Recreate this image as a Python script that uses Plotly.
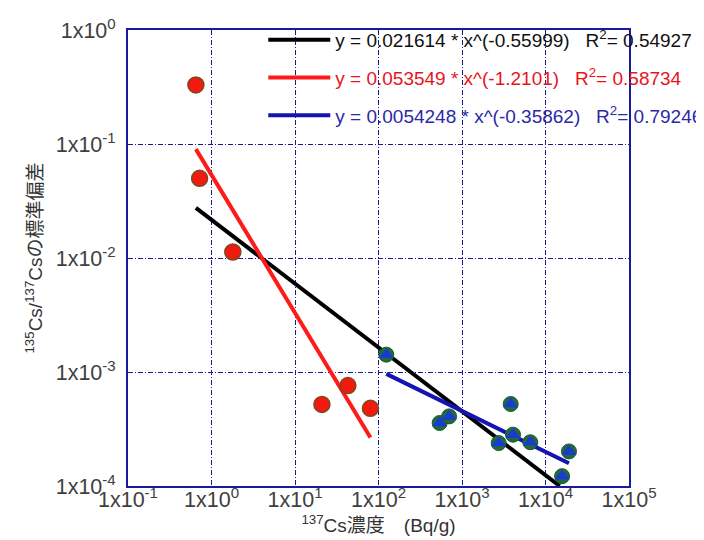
import plotly.graph_objects as go
import numpy as np

# Red series (circles)
red_x = [0.65, 0.72, 1.8, 21, 43, 80]
red_y = [0.33, 0.050, 0.0113, 5.2e-4, 7.6e-4, 4.8e-4]

# Blue series (triangles on green circles)
blue_x = [124, 540, 700, 3830, 2750, 4080, 6570, 19100, 15800]
blue_y = [1.42e-3, 3.57e-4, 4.08e-4, 5.24e-4, 2.38e-4, 2.82e-4, 2.42e-4, 2.01e-4, 1.22e-4]

# Power-law fits y = a * x^b, drawn between endpoints
fit_names = ["all", "red", "blue"]
fit_a = [0.021614, 0.053549, 0.0054248]
fit_b = [-0.55999, -1.2101, -0.35862]
fit_r2 = ["0.54927", "0.58734", "0.79246"]
fit_xrange = [[0.65, 14800], [0.65, 80], [124, 19100]]
fit_colors = ["#000000", "#ff1a1a", "#1414b4"]
fit_text_colors = ["#111111", "#e8141c", "#2a2aa8"]

x_tickvals = [1e-1, 1e0, 1e1, 1e2, 1e3, 1e4, 1e5]
x_ticktext = ["1x10<sup>-1</sup>", "1x10<sup>0</sup>", "1x10<sup>1</sup>", "1x10<sup>2</sup>",
              "1x10<sup>3</sup>", "1x10<sup>4</sup>", "1x10<sup>5</sup>"]
y_tickvals = [1e-4, 1e-3, 1e-2, 1e-1, 1e0]
y_ticktext = ["1x10<sup>-4</sup>", "1x10<sup>-3</sup>", "1x10<sup>-2</sup>", "1x10<sup>-1</sup>", "1x10<sup>0</sup>"]

fig = go.Figure()

eq_text = [
    "y = 0.021614 * x^(-0.55999)",
    "y = 0.053549 * x^(-1.2101)",
    "y = 0.0054248 * x^(-0.35862)",
]
for i in range(3):
    xs = np.array(fit_xrange[i], dtype=float)
    ys = fit_a[i] * xs ** fit_b[i]
    label = "%s\u00a0\u00a0\u00a0R<sup>2</sup>= %s" % (eq_text[i], fit_r2[i])
    fig.add_trace(go.Scatter(
        x=xs, y=ys, mode="lines", line=dict(color=fit_colors[i], width=4),
        name="<span style='color:%s'>%s</span>" % (fit_text_colors[i], label),
        legendgroup=fit_names[i], showlegend=True))

fig.add_trace(go.Scatter(
    x=red_x, y=red_y, mode="markers", showlegend=False,
    marker=dict(symbol="circle", size=16, color="#f21a0f", line=dict(color="#7a4a20", width=1.5))))
fig.add_trace(go.Scatter(
    x=blue_x, y=blue_y, mode="markers", showlegend=False,
    marker=dict(symbol="circle", size=15, color="#1f6b3a", line=dict(color="#1f5a30", width=1))))
fig.add_trace(go.Scatter(
    x=blue_x, y=blue_y, mode="markers", showlegend=False,
    marker=dict(symbol="triangle-up", size=13, color="#1a3ad0", line=dict(width=0))))

axis_common = dict(
    type="log", showgrid=True, gridcolor="#1a1a90", griddash="5px,2px,1px,2px", gridwidth=1,
    showline=True, linecolor="#1a1aa0", linewidth=2, mirror=True, zeroline=False,
    ticks="", tickfont=dict(family="Liberation Sans, Arial", size=21.5, color="#404040"),
)
title_font = dict(family="Liberation Sans, Noto Sans CJK JP", size=19, color="#333333")
fig.update_xaxes(range=[-1, 5], tickvals=x_tickvals, ticktext=x_ticktext,
                 ticklabelstandoff=-7,
                 title=dict(text="<sup>137</sup>Cs濃度\u3000(Bq/g)", standoff=0, font=title_font),
                 **axis_common)
fig.update_yaxes(range=[-4, 0], tickvals=y_tickvals, ticktext=y_ticktext,
                 ticklabelstandoff=6,
                 title=dict(text="<sup>135</sup>Cs/<sup>137</sup>Csの標準偏差", standoff=8, font=title_font),
                 **axis_common)

fig.update_layout(
    width=704, height=540,
    margin=dict(l=120, r=83, t=22, b=62, autoexpand=False),
    plot_bgcolor="white", paper_bgcolor="white",
    legend=dict(x=0.27, y=1.02, xanchor="left", yanchor="top",
                bgcolor="rgba(0,0,0,0)", borderwidth=0, tracegroupgap=10,
                itemwidth=62,
                font=dict(family="Liberation Sans, Arial", size=19, color="#111111")),
)

fig.write_html("out.html")
